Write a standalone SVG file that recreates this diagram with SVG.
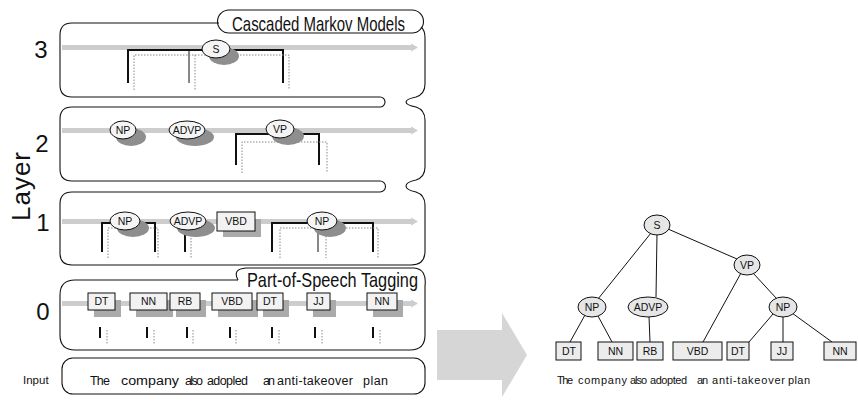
<svg xmlns="http://www.w3.org/2000/svg" width="858" height="401" viewBox="0 0 858 401">
<style>
.pan{fill:none;stroke:#111;stroke-width:1.1}
.band{fill:#cdcdcd}
.sh{fill:#8e8e8e}
.el{fill:#f4f4f4;stroke:#111;stroke-width:1}
.bx{fill:#f2f2f2;stroke:#111;stroke-width:1}
.tel{fill:#e6e6e6;stroke:#111;stroke-width:1}
.tbx{fill:#ececec;stroke:#111;stroke-width:1}
.lbl{font-family:"Liberation Sans",Arial,sans-serif;font-size:10.5px;fill:#111;text-anchor:middle}
.big{font-family:"Liberation Sans",Arial,sans-serif;font-size:24px;fill:#111;text-anchor:middle}
.wd{font-family:"Liberation Sans",Arial,sans-serif;font-size:11px;fill:#111}
.iw{font-family:"Liberation Sans",Arial,sans-serif;font-size:12.5px;fill:#111}
.ttl{font-family:"Liberation Sans",Arial,sans-serif;font-size:21px;fill:#111}
.bk{stroke:#111;stroke-width:2;fill:none}
.bt{stroke:#111;stroke-width:1;fill:none}
.dt{stroke:#888;stroke-width:1;stroke-dasharray:1.5 1.5;fill:none}
.edge{stroke:#111;stroke-width:1;fill:none}
</style>
<defs>
<g id="arrowhead"><polygon points="0,-4 7,0 0,4" fill="#cdcdcd"/></g>
</defs>

<!-- layer labels -->
<text class="big" x="41" y="58">3</text>
<text class="big" x="42" y="152">2</text>
<text class="big" x="43" y="231">1</text>
<text class="big" x="43" y="320">0</text>
<text class="big" transform="translate(30,186) rotate(-90)" style="font-size:26px;letter-spacing:1px">Layer</text>
<text class="wd" x="23" y="384" style="font-size:11.5px">Input</text>

<!-- panels -->
<g id="panels">
<path class="pan" d="M219,23 H72 Q60,23 60,35 V85 Q60,97 72,97 H380 A5,5 0 0 1 380,107 H72 Q60,107 60,119 V169 Q60,181 72,181 H380 A5.5,5.5 0 0 1 380,192 H72 Q60,192 60,204 V253 Q60,265 72,265 H411 Q425,265 425,251 V205 Q425,195 416,192 Q406,190 406,186 Q406,182 416,180 Q425,177 425,167 V120 Q425,110 416,107 Q406,105 406,102 Q406,99 416,97 Q425,94 425,84 V38 Q425,30 421,27"/>
<path class="pan" d="M229,10 H412 A11.5,11.5 0 0 1 412,33 H229 A11.5,11.5 0 0 1 229,10 Z"/>
<text class="ttl" x="232" y="31" textLength="173" lengthAdjust="spacingAndGlyphs">Cascaded Markov Models</text>
<path class="pan" d="M238,280 H75 Q60,280 60,295 V335 Q60,350 75,350 H410 Q425,350 425,335 V286"/>
<path class="pan" d="M238,280 Q232,269 246,268 H414 Q427,269 425,286"/>
<text class="ttl" x="247" y="287" textLength="171" lengthAdjust="spacingAndGlyphs">Part-of-Speech Tagging</text>
<rect class="pan" x="62" y="358" width="363" height="36" rx="11"/>
</g>

<!-- gray bands -->
<g id="bands">
<rect class="band" x="62" y="45" width="350" height="5"/><use href="#arrowhead" x="411" y="47.5"/>
<rect class="band" x="62" y="128" width="350" height="5"/><use href="#arrowhead" x="411" y="130.5"/>
<rect class="band" x="62" y="219" width="350" height="5"/><use href="#arrowhead" x="411" y="221.5"/>
<rect class="band" x="62" y="301" width="350" height="5"/><use href="#arrowhead" x="411" y="303.5"/>
</g>

<!-- connectors -->
<g id="connectors">
<path class="bk" d="M128,83 V50 H283 V83"/>
<path class="bt" d="M189,50 V83"/>
<path class="dt" d="M134,90 V55 H289 V90 M195,55 V90"/>
<path class="bk" d="M236,165 V134 H319 V165"/>
<path class="dt" d="M242,173 V142 H327 V173"/>
<path class="bk" d="M102,252 V223 H155 V252"/>
<path class="dt" d="M108,258 V228 H158 V258"/>
<path class="bk" d="M185,232 V252"/>
<path class="dt" d="M191,232 V258"/>
<path class="bk" d="M272,252 V223 H373 V252"/>
<path class="bt" d="M318,230 V252"/>
<path class="dt" d="M280,258 V228 H378 V258 M326,230 V258"/>
<path class="bk" d="M100,327 V338 M147,327 V338 M187,327 V338 M230,327 V338 M272,327 V338 M315,327 V338 M373,327 V338"/>
<path class="dt" d="M107,330 V345 M154,330 V345 M193,330 V345 M236,330 V345 M279,330 V345 M322,330 V345 M380,330 V345"/>
<path class="edge" d="M651,233 L598,299 M657,234 L656,297 M668,229 L737,259 M741,273 L703,342 M753,273 L777,299 M585,315 L570,342 M598,316 L612,342 M649,316 L650,342 M773,314 L749,342 M783,316 L783,342 M792,313 L832,342"/>
</g>

<!-- big arrow -->
<polygon points="437,330 502,330 502,313 527,355 502,397 502,380 437,380" fill="#d6d6d6"/>

<g id="l3-S"><ellipse class="sh" cx="224" cy="56" rx="15" ry="9"/><ellipse class="el" cx="216" cy="49" rx="14" ry="9"/><text class="lbl" x="216" y="53">S</text></g>
<g id="l2-NP"><ellipse class="sh" cx="131" cy="137" rx="15" ry="9"/><ellipse class="el" cx="123" cy="130" rx="13" ry="9"/><text class="lbl" x="123" y="134">NP</text></g>
<g id="l2-ADVP"><ellipse class="sh" cx="195" cy="137" rx="19" ry="9"/><ellipse class="el" cx="187" cy="130" rx="18" ry="9"/><text class="lbl" x="187" y="134">ADVP</text></g>
<g id="l2-VP"><ellipse class="sh" cx="288" cy="136" rx="16" ry="9"/><ellipse class="el" cx="280" cy="129" rx="14" ry="9"/><text class="lbl" x="280" y="133">VP</text></g>
<g id="l1-NP1"><ellipse class="sh" cx="133" cy="228" rx="16" ry="9"/><ellipse class="el" cx="125" cy="221" rx="15" ry="9"/><text class="lbl" x="125" y="225">NP</text></g>
<g id="l1-ADVP"><ellipse class="sh" cx="196" cy="228" rx="19" ry="9"/><ellipse class="el" cx="188" cy="221" rx="18" ry="9"/><text class="lbl" x="188" y="225">ADVP</text></g>
<g id="l1-VBD"><rect x="223" y="219" width="38" height="18" fill="#aaa"/><rect class="bx" x="217" y="212" width="38" height="19"/><text class="lbl" x="236" y="225">VBD</text></g>
<g id="l1-NP2"><ellipse class="sh" cx="330" cy="228" rx="16" ry="9"/><ellipse class="el" cx="322" cy="221" rx="15" ry="9"/><text class="lbl" x="322" y="225">NP</text></g>
<g id="l0-DT1"><rect x="94" y="300" width="27" height="17" fill="#aaa"/><rect class="bx" x="88" y="293" width="27" height="17"/><text class="lbl" x="101.5" y="305">DT</text></g>
<g id="l0-NN1"><rect x="136" y="300" width="37" height="17" fill="#aaa"/><rect class="bx" x="130" y="293" width="37" height="17"/><text class="lbl" x="148.5" y="305">NN</text></g>
<g id="l0-RB"><rect x="176" y="300" width="30" height="17" fill="#aaa"/><rect class="bx" x="170" y="293" width="30" height="17"/><text class="lbl" x="185" y="305">RB</text></g>
<g id="l0-VBD"><rect x="218" y="300" width="40" height="17" fill="#aaa"/><rect class="bx" x="212" y="293" width="40" height="17"/><text class="lbl" x="232" y="305">VBD</text></g>
<g id="l0-DT2"><rect x="263" y="300" width="26" height="17" fill="#aaa"/><rect class="bx" x="257" y="293" width="26" height="17"/><text class="lbl" x="270" y="305">DT</text></g>
<g id="l0-JJ"><rect x="313" y="300" width="23" height="17" fill="#aaa"/><rect class="bx" x="307" y="293" width="23" height="17"/><text class="lbl" x="318.5" y="305">JJ</text></g>
<g id="l0-NN2"><rect x="373" y="300" width="30" height="17" fill="#aaa"/><rect class="bx" x="367" y="293" width="30" height="17"/><text class="lbl" x="382" y="305">NN</text></g>

<g id="input-words">
<text class="iw" x="90" y="385" textLength="20" lengthAdjust="spacing">The</text>
<text class="iw" x="121" y="385" textLength="58" lengthAdjust="spacingAndGlyphs">company</text>
<text class="iw" x="185" y="385" textLength="18" lengthAdjust="spacing">also</text>
<text class="iw" x="207" y="385" textLength="41" lengthAdjust="spacing">adopled</text>
<text class="iw" x="263" y="385" textLength="12" lengthAdjust="spacing">an</text>
<text class="iw" x="277" y="385" textLength="76" lengthAdjust="spacing">anti-takeover</text>
<text class="iw" x="363" y="385" textLength="25" lengthAdjust="spacing">plan</text>
</g>

<g id="t-S"><ellipse class="tel" cx="657" cy="225" rx="13" ry="10"/><text class="lbl" x="657" y="229">S</text></g>
<g id="t-VP"><ellipse class="tel" cx="747" cy="265" rx="13" ry="10"/><text class="lbl" x="747" y="269">VP</text></g>
<g id="t-NP1"><ellipse class="tel" cx="592" cy="307" rx="14" ry="10"/><text class="lbl" x="592" y="311">NP</text></g>
<g id="t-ADVP"><ellipse class="tel" cx="648" cy="307" rx="20" ry="10"/><text class="lbl" x="648" y="311">ADVP</text></g>
<g id="t-NP2"><ellipse class="tel" cx="783" cy="307" rx="14" ry="10"/><text class="lbl" x="783" y="311">NP</text></g>
<g id="t-DT1"><rect class="tbx" x="556" y="342" width="25" height="18"/><text class="lbl" x="569" y="355">DT</text></g>
<g id="t-NN1"><rect class="tbx" x="598" y="342" width="35" height="18"/><text class="lbl" x="615.5" y="355">NN</text></g>
<g id="t-RB"><rect class="tbx" x="637" y="342" width="26" height="18"/><text class="lbl" x="650" y="355">RB</text></g>
<g id="t-VBD"><rect class="tbx" x="673" y="342" width="49" height="18"/><text class="lbl" x="697.5" y="355">VBD</text></g>
<g id="t-DT2"><rect class="tbx" x="727" y="342" width="22" height="18"/><text class="lbl" x="738" y="355">DT</text></g>
<g id="t-JJ"><rect class="tbx" x="771" y="342" width="22" height="18"/><text class="lbl" x="782" y="355">JJ</text></g>
<g id="t-NN2"><rect class="tbx" x="824" y="342" width="32" height="18"/><text class="lbl" x="840" y="355">NN</text></g>

<g id="tree-words">
<text class="wd" x="557" y="384" textLength="16" lengthAdjust="spacing">The</text>
<text class="wd" x="578" y="384" textLength="49" lengthAdjust="spacing">company</text>
<text class="wd" x="630" y="384" textLength="17" lengthAdjust="spacing">also</text>
<text class="wd" x="650" y="384" textLength="37" lengthAdjust="spacing">adopted</text>
<text class="wd" x="697" y="384" textLength="11" lengthAdjust="spacing">an</text>
<text class="wd" x="712" y="384" textLength="73" lengthAdjust="spacing">anti-takeover</text>
<text class="wd" x="788" y="384" textLength="22" lengthAdjust="spacing">plan</text>
</g>
</svg>
